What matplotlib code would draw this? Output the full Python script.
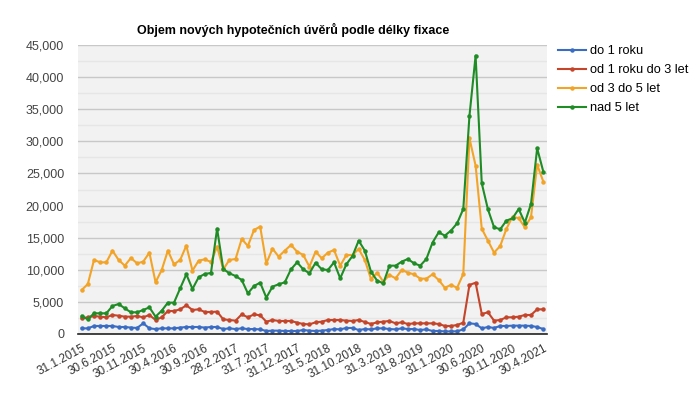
import matplotlib
matplotlib.use('Agg')
import matplotlib.pyplot as plt
from matplotlib.ticker import MultipleLocator, FuncFormatter
import pandas as pd

plt.rcParams['font.family'] = ['Liberation Sans', 'DejaVu Sans']

# month-end dates, Jan 2015 - Apr 2021
months = pd.date_range('2015-01-31', periods=76, freq='ME')
month_labels = [f"{d.day}.{d.month}.{d.year}" for d in months]

# objem (mil. Kc) podle delky fixace
do_1_roku = [880, 880, 1250, 1250, 1250, 1250, 1090, 1090, 1000, 940,
             1660, 880, 770, 880, 880, 880, 1000, 1090, 1090, 1090,
             1000, 1090, 1090, 770, 880, 770, 880, 770, 770, 720,
             470, 520, 520, 470, 470, 470, 620, 520, 470, 520,
             620, 770, 720, 940, 940, 620, 770, 720, 880, 880,
             770, 720, 880, 770, 770, 620, 720, 470, 470, 400,
             400, 420, 720, 1660, 1560, 880, 1090, 940, 1250, 1250,
             1300, 1300, 1300, 1250, 1090, 770]
od_1_do_3 = [2440, 2600, 2800, 2700, 2600, 2960, 2850, 2700, 2700, 2800,
             2600, 2960, 2180, 2600, 3580, 3580, 3840, 4470, 3740, 3840,
             3430, 3430, 3480, 2280, 2180, 2080, 3060, 2600, 3060, 2900,
             1920, 2180, 2030, 2030, 2030, 1770, 1560, 1500, 1820, 1920,
             2180, 2180, 2180, 2080, 2030, 2180, 1870, 1560, 1820, 1920,
             2030, 1660, 1820, 1560, 1660, 1660, 1660, 1660, 1560, 1250,
             1250, 1400, 1770, 7630, 7990, 3110, 3380, 2080, 2180, 2600,
             2600, 2700, 2960, 2960, 3840, 3840]
od_3_do_5 = [6850, 7790, 11530, 11160, 11160, 12980, 11530, 10640, 11840, 11000,
             11270, 12670, 8050, 9970, 12980, 10850, 11530, 13760, 9870, 11420,
             11630, 11210, 13600, 10070, 11530, 11680, 14800, 13710, 16200, 16720,
             11000, 13290, 12050, 12980, 13860, 12820, 12300, 10490, 12820, 11790,
             12670, 13080, 10640, 12300, 12300, 13240, 11530, 8570, 9550, 8150,
             9190, 8670, 9970, 9550, 9290, 8620, 8620, 9290, 8410, 7210,
             7630, 7210, 9350, 30480, 26220, 16400, 14540, 12670, 13710, 16360,
             18280, 18020, 16620, 18180, 26370, 23730]
nad_5 = [2800, 2280, 3220, 3220, 3220, 4360, 4670, 4000, 3380, 3380,
         3740, 4150, 2700, 3630, 4880, 4880, 7110, 9290, 7010, 8830,
         9350, 9500, 16400, 10120, 9450, 9030, 8410, 6330, 7480, 7990,
         5660, 7370, 7740, 8050, 10070, 11160, 10070, 9450, 11100, 10070,
         9970, 11160, 8670, 10850, 12150, 14540, 12980, 9710, 8310, 7890,
         10640, 10640, 11270, 11680, 11000, 10640, 11680, 14230, 15830, 15320,
         16100, 17240, 19470, 33960, 43350, 23470, 19420, 16620, 16310, 17650,
         18020, 19470, 17340, 20250, 28920, 25280]

series = [
    ('do 1 roku', do_1_roku, '#3b6cc3'),
    ('od 1 roku do 3 let', od_1_do_3, '#c4452a'),
    ('od 3 do 5 let', od_3_do_5, '#f2a428'),
    ('nad 5 let', nad_5, '#1f8c26'),
]

fig = plt.figure(figsize=(6.97, 3.98), dpi=100)
ax = fig.add_axes([78/697, 64/398, 469/697, 289/398])
ax.set_facecolor('#f2f2f2')

x = list(range(len(months)))
for name, vals, col in series:
    ax.plot(x, vals, color=col, lw=1.5, marker='o', ms=2.2, label=name)

ax.set_xlim(-0.6, len(x) - 0.4)
ax.set_ylim(0, 45000)
ax.yaxis.set_major_locator(MultipleLocator(5000))
ax.yaxis.set_minor_locator(MultipleLocator(2500))
ax.yaxis.set_major_formatter(FuncFormatter(lambda v, p: f"{int(v):,}"))
ax.grid(axis='y', which='major', color='#c8c8c8', lw=1)
ax.grid(axis='y', which='minor', color='#e6e6e6', lw=1)
ax.set_axisbelow(True)

ax.set_xticks(x[::5])
ax.set_xticklabels(month_labels[::5], rotation=28, ha='right',
                   rotation_mode='anchor', fontsize=8.5, color='#333333')
ax.tick_params(axis='x', length=0, pad=6)
ax.tick_params(axis='y', which='both', length=0, labelsize=9,
               labelcolor='#444444', pad=10)

for s in ['left', 'right', 'top']:
    ax.spines[s].set_visible(False)
ax.spines['bottom'].set_color('#222222')
ax.spines['bottom'].set_linewidth(1.2)

fig.text(293/697, 1 - 30/398, 'Objem nových hypotečních úvěrů podle délky fixace',
         ha='center', va='center', fontsize=9, fontweight='bold')

fig.legend(loc='upper left', bbox_to_anchor=(553/697, 1 - 40/398),
           frameon=False, fontsize=9.2, handlelength=2.2, handletextpad=0.3,
           labelspacing=0.55, borderaxespad=0)

fig.savefig('out.png', dpi=100)
